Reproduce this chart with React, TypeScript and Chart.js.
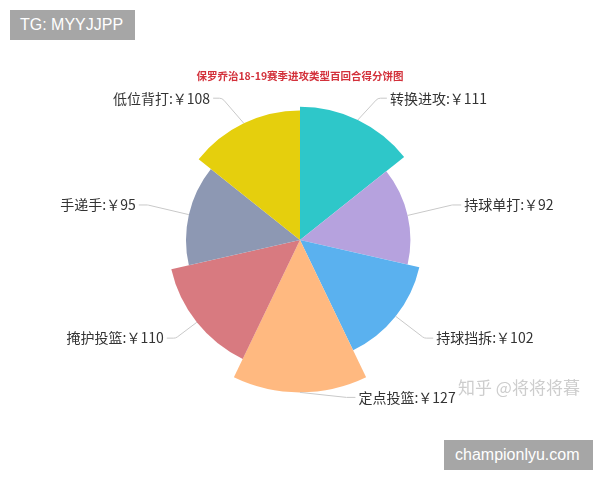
import React, { useEffect, useRef } from "react";
import { Chart, registerables } from "chart.js";

Chart.register(...registerables);

const categories = ["转换进攻", "持球单打", "持球挡拆", "定点投篮", "掩护投篮", "手递手", "低位背打"];
const values = [111, 92, 102, 127, 110, 95, 108];
const colors = ["#2ec7c9", "#b6a2de", "#5ab1ef", "#ffb980", "#d87a80", "#8d98b3", "#e5cf0d"];
const titleText = "保罗乔治18-19赛季进攻类型百回合得分饼图";
const radialMax = 130;

const roseLabels = {
  id: "roseLabels",
  afterDatasetsDraw(chart: any) {
    const ctx = chart.ctx as CanvasRenderingContext2D;
    const meta = chart.getDatasetMeta(0);
    const arcs = meta.data as any[];
    let maxR = 0;
    arcs.forEach((a) => {
      maxR = Math.max(maxR, a.outerRadius);
    });
    const E = maxR + 5;
    const K = maxR + 15.5;
    ctx.save();
    ctx.font = '14px "Noto Sans CJK SC", sans-serif';
    ctx.textBaseline = "middle";
    ctx.lineWidth = 1;
    arcs.forEach((arc, i) => {
      const p = arc.getProps(["x", "y", "startAngle", "endAngle", "outerRadius"], true);
      const mid = (p.startAngle + p.endAngle) / 2;
      const c = Math.cos(mid);
      const s = Math.sin(mid);
      const ex = p.x + c * p.outerRadius;
      const ey = p.y + s * p.outerRadius;
      const right = c > -0.01;
      const dir = right ? 1 : -1;
      const dy = s * E;
      const dx = Math.sqrt(Math.max(K * K - dy * dy, 0));
      const tx = p.x + dir * dx;
      const ty = p.y + dy;
      const endX = tx - dir * 3;
      const elbowX = tx - dir * 12;
      ctx.strokeStyle = "#c9c9c9";
      ctx.beginPath();
      ctx.moveTo(ex, ey);
      ctx.arcTo(elbowX, ty, endX, ty, 6);
      ctx.lineTo(endX, ty);
      ctx.stroke();
      ctx.fillStyle = "#333333";
      ctx.textAlign = right ? "left" : "right";
      ctx.fillText(`${chart.data.labels[i]}:￥${chart.data.datasets[0].data[i]}`, tx, ty);
    });
    ctx.font = 'bold 10.5px "Noto Sans CJK SC", sans-serif';
    ctx.fillStyle = "#d3313b";
    ctx.textAlign = "center";
    ctx.fillText(titleText, chart.width / 2, chart.chartArea.top - 8);
    ctx.restore();
  },
};

export default function App() {
  const ref = useRef<HTMLCanvasElement | null>(null);

  useEffect(() => {
    if (!ref.current) return;
    const chart = new Chart(ref.current, {
      type: "polarArea",
      data: {
        labels: categories,
        datasets: [
          {
            data: values,
            backgroundColor: colors,
            borderWidth: 0,
          },
        ],
      },
      options: {
        responsive: false,
        animation: false,
        layout: { padding: { top: 84, bottom: 84, left: 144, right: 144 } },
        scales: {
          r: {
            min: 0,
            max: radialMax,
            ticks: { display: false },
            grid: { display: false },
            angleLines: { display: false },
            pointLabels: { display: false },
          },
        },
        plugins: {
          legend: { display: false },
          tooltip: { enabled: false },
        },
      },
      plugins: [roseLabels],
    });
    return () => chart.destroy();
  }, []);

  return (
    <div style={{ position: "absolute", left: 0, top: 0, width: 600, height: 480, background: "#fff" }}>
      <canvas ref={ref} width={600} height={480} style={{ display: "block" }} />
      <div
        style={{
          position: "absolute",
          left: 10,
          top: 10,
          width: 125,
          height: 30,
          background: "#a6a6a6",
          color: "#fff",
          font: '16px "Liberation Sans", Arial, sans-serif',
          lineHeight: "30px",
          paddingLeft: 10,
          boxSizing: "border-box",
        }}
      >
        TG: MYYJJPP
      </div>
      <div
        style={{
          position: "absolute",
          left: 458,
          top: 375,
          color: "#cdcdcd",
          font: '17px "Noto Sans CJK SC", sans-serif',
          lineHeight: "24px",
          whiteSpace: "nowrap",
        }}
      >
        知乎 @将将将暮
      </div>
      <div
        style={{
          position: "absolute",
          left: 444,
          top: 440,
          width: 149,
          height: 30,
          background: "#a6a6a6",
          color: "#fff",
          font: '16px "Liberation Sans", Arial, sans-serif',
          lineHeight: "30px",
          paddingLeft: 11,
          boxSizing: "border-box",
          whiteSpace: "nowrap",
        }}
      >
        championlyu.com
      </div>
    </div>
  );
}
